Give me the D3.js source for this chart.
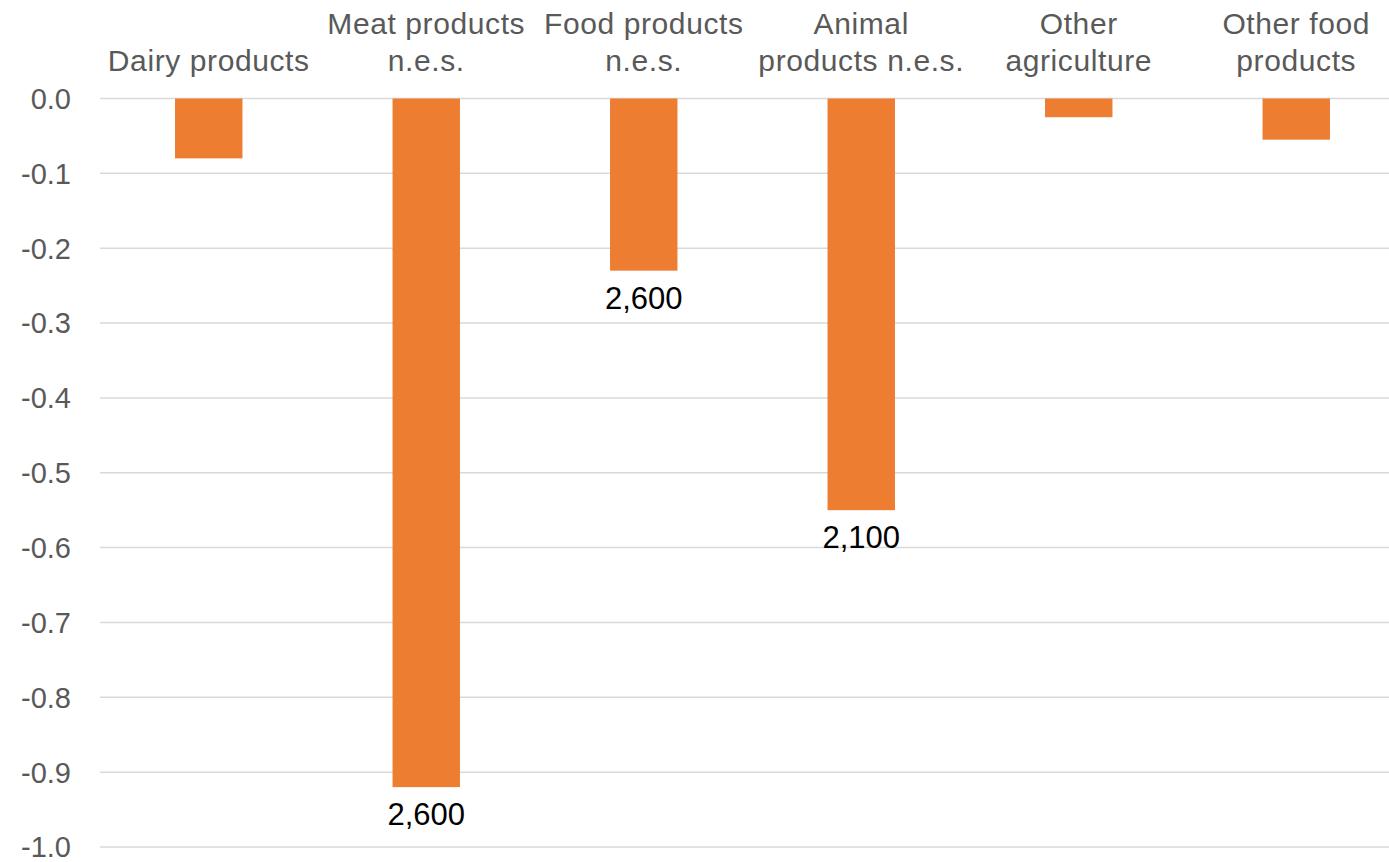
<!DOCTYPE html>
<html>
<head>
<meta charset="utf-8">
<script src="https://cdn.jsdelivr.net/npm/d3@7"></script>
<style>
  html, body { margin: 0; padding: 0; background: #fff; }
  svg { display: block; }
  text { font-family: "Liberation Sans", Arial, sans-serif; }
</style>
</head>
<body>
<svg id="chart" width="1389" height="862"></svg>
<script>
// Product categories (multi-line labels split on "\n")
const categories = [
  "Dairy products",
  "Meat products\nn.e.s.",
  "Food products\nn.e.s.",
  "Animal\nproducts n.e.s.",
  "Other\nagriculture",
  "Other food\nproducts"
];
const values = [-0.08, -0.92, -0.23, -0.55, -0.025, -0.055];
const valueLabels = ["", "2,600", "2,600", "2,100", "", ""];
const yTicks = [0, -0.1, -0.2, -0.3, -0.4, -0.5, -0.6, -0.7, -0.8, -0.9, -1.0];

const W = 1389, H = 862;
const plotLeft = 100, plotRight = 1405, plotTop = 98.5, plotBottom = 847;

const svg = d3.select("#chart");

const x = d3.scaleBand().domain(categories).range([plotLeft, plotRight]).padding(0);
const y = d3.scaleLinear().domain([0, -1.0]).range([plotTop, plotBottom]);
const barW = x.bandwidth() * 0.31;

// Horizontal gridlines
svg.append("g").selectAll("line").data(yTicks).join("line")
  .attr("x1", plotLeft).attr("x2", W)
  .attr("y1", d => y(d)).attr("y2", d => y(d))
  .attr("stroke", "#d9d9d9").attr("stroke-width", 1.5);

// Y axis tick labels
svg.append("g").selectAll("text").data(yTicks).join("text")
  .attr("x", 71).attr("y", d => y(d)).attr("dy", "0.36em")
  .attr("text-anchor", "end")
  .attr("fill", "#595959").attr("font-size", 29)
  .text(d => d3.format(".1f")(d).replace("−", "-"));

// Bars
svg.append("g").selectAll("rect").data(values).join("rect")
  .attr("x", (d, i) => x(categories[i]) + (x.bandwidth() - barW) / 2)
  .attr("y", y(0))
  .attr("width", barW)
  .attr("height", d => y(d) - y(0))
  .attr("fill", "#ED7D31");

// Value labels under the bars
svg.append("g").selectAll("text").data(values).join("text")
  .attr("x", (d, i) => x(categories[i]) + x.bandwidth() / 2)
  .attr("y", d => y(d) + 38)
  .attr("text-anchor", "middle")
  .attr("fill", "#000").attr("font-size", 31)
  .text((d, i) => valueLabels[i]);

// Category labels along the top, last line aligned to a common baseline
const cat = svg.append("g").selectAll("text").data(categories).join("text")
  .attr("text-anchor", "middle")
  .attr("fill", "#595959").attr("font-size", 30)
  .attr("letter-spacing", 0.6)
  .attr("transform", d => `translate(${x(d) + x.bandwidth() / 2},71)`);
cat.each(function(d) {
  const lines = d.split("\n");
  const t = d3.select(this);
  lines.forEach((ln, j) => {
    t.append("tspan").attr("x", 0)
      .attr("y", (j - (lines.length - 1)) * 37.5)
      .text(ln);
  });
});
</script>
</body>
</html>
